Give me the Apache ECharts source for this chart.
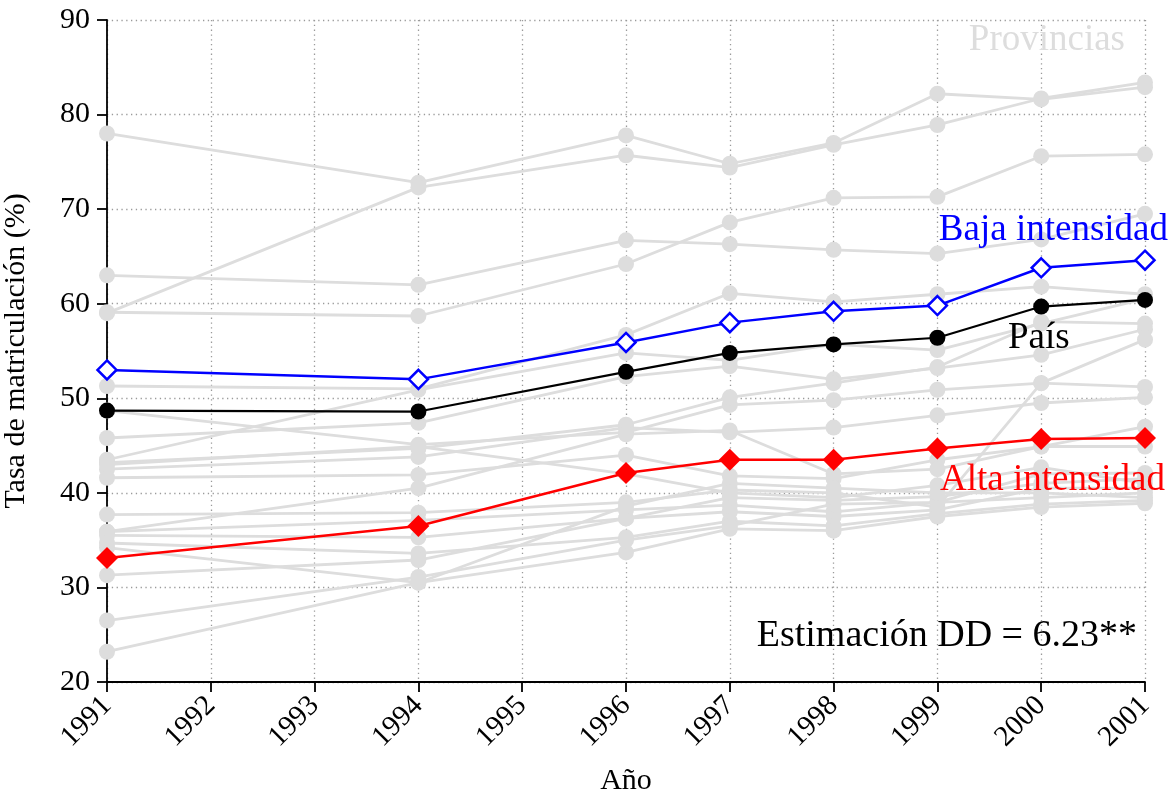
<!DOCTYPE html>
<html>
<head>
<meta charset="utf-8">
<script src="https://cdn.jsdelivr.net/npm/echarts@6/dist/echarts.min.js"></script>
<style>
  html, body { margin: 0; padding: 0; background: #fff; }
  #chart { width: 1175px; height: 793px; }
</style>
</head>
<body>
<div id="chart"></div>
<script>
// Años con observación
const years = [1991, 1994, 1996, 1997, 1998, 1999, 2000, 2001];

// Tasa de matriculación (%) — promedio del país y grupos por intensidad
const pais = [48.7, 48.6, 52.8, 54.8, 55.7, 56.4, 59.7, 60.4];
const baja = [53.0, 52.0, 55.9, 58.0, 59.2, 59.8, 63.8, 64.6];
const alta = [33.1, 36.5, 42.1, 43.5, 43.5, 44.7, 45.7, 45.8];

// Serie de cada provincia (mismo orden de años)
const provincias = [
  [78.0, 72.8, 77.8, 74.8, 77.0, 82.2, 81.6, 82.9],
  [59.0, 72.3, 75.7, 74.4, 76.8, 78.9, 81.7, 83.4],
  [63.0, 62.0, 66.7, 66.3, 65.7, 65.3, 66.8, 69.5],
  [59.1, 58.7, 64.2, 68.6, 71.2, 71.3, 75.6, 75.8],
  [51.3, 51.0, 56.7, 61.1, 60.2, 61.0, 61.8, 61.0],
  [43.5, 50.9, 54.8, 54.0, 55.7, 55.1, 57.9, 60.5],
  [48.7, 45.1, 46.4, 49.3, 49.8, 50.9, 51.6, 51.2],
  [45.8, 47.4, 52.3, 53.4, 52.0, 53.2, 54.6, 57.3],
  [43.2, 44.7, 47.2, 50.1, 51.6, 53.3, 58.1, 57.9],
  [42.5, 43.8, 46.9, 46.4, 46.9, 48.2, 49.5, 50.1],
  [41.6, 41.9, 44.0, 41.8, 41.5, 43.5, 44.9, 47.0],
  [37.7, 37.9, 39.0, 40.3, 40.0, 38.5, 51.6, 56.2],
  [35.9, 40.5, 46.2, 46.6, 42.0, 42.5, 44.9, 44.9],
  [35.9, 37.1, 38.2, 38.7, 38.0, 39.0, 39.5, 40.0],
  [35.5, 35.3, 37.3, 38.0, 37.5, 38.2, 40.5, 40.5],
  [34.7, 33.6, 35.3, 37.0, 36.5, 37.8, 38.8, 39.2],
  [34.2, 30.5, 33.7, 36.2, 36.0, 37.5, 38.5, 38.9],
  [31.3, 32.9, 37.3, 39.5, 39.2, 39.6, 41.0, 41.5],
  [26.5, 31.1, 35.0, 36.5, 38.8, 39.0, 42.0, 42.1],
  [23.2, 30.5, 38.6, 41.0, 40.5, 40.0, 40.0, 39.5],
  [43.0, 44.9, 42.0, 40.0, 39.5, 40.8, 42.7, 41.0]
];

const FONT = "'Liberation Serif', 'Times New Roman', serif";
const GREY = '#dddddd';

function pairs(vals) {
  return years.map((y, i) => [y, vals[i]]);
}

const provSeries = provincias.map((vals, i) => ({
  name: 'Provincia ' + (i + 1),
  type: 'line',
  data: pairs(vals),
  symbol: 'circle',
  symbolSize: 16,
  z: 2,
  silent: true,
  lineStyle: { color: GREY, width: 2.8 },
  itemStyle: { color: GREY }
}));

const chart = echarts.init(document.getElementById('chart'), null, { renderer: 'canvas' });

chart.setOption({
  animation: false,
  backgroundColor: '#ffffff',
  grid: { left: 107, right: 30, top: 20, bottom: 111, containLabel: false, outerBoundsMode: 'none' },
  xAxis: {
    type: 'value',
    min: 1991,
    max: 2001,
    interval: 1,
    name: 'Año',
    nameLocation: 'middle',
    nameGap: 84,
    nameTextStyle: { fontFamily: FONT, fontSize: 30, color: '#000' },
    axisLine: { show: true, onZero: false, lineStyle: { color: '#000', width: 1.8 } },
    axisTick: { show: true, length: 10, lineStyle: { color: '#000', width: 1.8 } },
    axisLabel: {
      rotate: 45,
      margin: 19,
      fontFamily: FONT,
      fontSize: 29,
      color: '#000',
      formatter: v => String(v)
    },
    splitLine: { show: true, lineStyle: { color: '#9a9a9a', width: 1.3, type: [1.3, 3.5] } }
  },
  yAxis: {
    type: 'value',
    min: 20,
    max: 90,
    interval: 10,
    name: 'Tasa de matriculación (%)',
    nameLocation: 'middle',
    nameGap: 76,
    nameTextStyle: { fontFamily: FONT, fontSize: 30, color: '#000' },
    axisLine: { show: true, onZero: false, lineStyle: { color: '#000', width: 1.8 } },
    axisTick: { show: true, length: 10, lineStyle: { color: '#000', width: 1.8 } },
    axisLabel: { margin: 17, fontFamily: FONT, fontSize: 30, color: '#000' },
    splitLine: { show: true, lineStyle: { color: '#9a9a9a', width: 1.3, type: [1.3, 3.5] } }
  },
  series: provSeries.concat([
    {
      name: 'Baja intensidad',
      type: 'line',
      data: pairs(baja),
      symbol: 'diamond',
      symbolSize: [19, 19],
      z: 5,
      lineStyle: { color: '#0000ff', width: 2.5 },
      itemStyle: { color: '#ffffff', borderColor: '#0000ff', borderWidth: 2.5 }
    },
    {
      name: 'País',
      type: 'line',
      data: pairs(pais),
      symbol: 'circle',
      symbolSize: 16,
      z: 6,
      lineStyle: { color: '#000000', width: 2.2 },
      itemStyle: { color: '#000000' }
    },
    {
      name: 'Alta intensidad',
      type: 'line',
      data: pairs(alta),
      symbol: 'diamond',
      symbolSize: [22, 22],
      z: 5,
      lineStyle: { color: '#ff0000', width: 2.5 },
      itemStyle: { color: '#ff0000' }
    }
  ]),
  graphic: [
    { type: 'text', z: 100, x: 1125, y: 40,
      style: { text: 'Provincias', fill: GREY, font: '37px ' + FONT, textAlign: 'right', textVerticalAlign: 'middle' } },
    { type: 'text', z: 100, x: 1168, y: 230,
      style: { text: 'Baja intensidad', fill: '#0000ff', font: '37px ' + FONT, textAlign: 'right', textVerticalAlign: 'middle' } },
    { type: 'text', z: 100, x: 1008, y: 338,
      style: { text: 'País', fill: '#000000', font: '37px ' + FONT, textAlign: 'left', textVerticalAlign: 'middle' } },
    { type: 'text', z: 100, x: 1165, y: 480,
      style: { text: 'Alta intensidad', fill: '#ff0000', font: '37px ' + FONT, textAlign: 'right', textVerticalAlign: 'middle' } },
    { type: 'text', z: 100, x: 1137, y: 636,
      style: { text: 'Estimación DD = 6.23**', fill: '#000000', font: '38px ' + FONT, textAlign: 'right', textVerticalAlign: 'middle' } }
  ]
});
</script>
</body>
</html>
